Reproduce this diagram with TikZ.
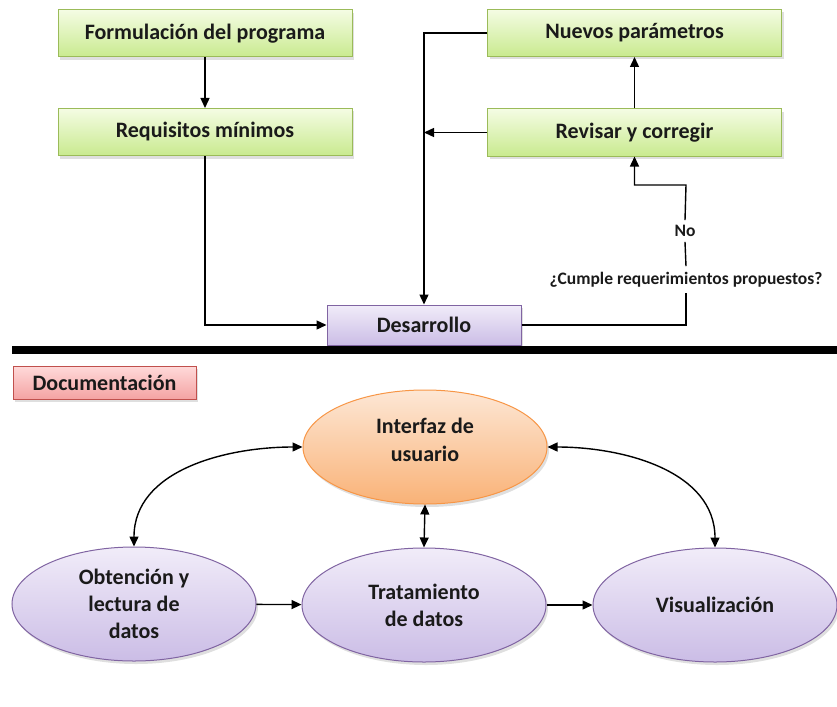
\documentclass[tikz,border=0pt]{standalone}
\usepackage{fontspec}
\setmainfont{Carlito}
\usetikzlibrary{arrows.meta,shapes.geometric,shadows}

\definecolor{grTop}{HTML}{F4FCE3}
\definecolor{grBot}{HTML}{C9EA8F}
\definecolor{grLine}{HTML}{9BBB59}
\definecolor{puTop}{HTML}{F1ECF9}
\definecolor{puBot}{HTML}{CBBDE6}
\definecolor{puLine}{HTML}{8064A2}
\definecolor{orTop}{HTML}{FDE7D5}
\definecolor{orBot}{HTML}{F9B277}
\definecolor{orLine}{HTML}{F79646}
\definecolor{rdTop}{HTML}{FFDADA}
\definecolor{rdBot}{HTML}{F4A3A3}
\definecolor{rdLine}{HTML}{C0504D}
\definecolor{ink}{HTML}{1A1A1A}

\tikzset{
  shade/.style={drop shadow={opacity=0.25,shadow xshift=2pt,shadow yshift=-3pt}},
  txt/.style={text=ink,font=\bfseries\fontsize{22}{27}\selectfont,align=center},
  greenbox/.style={txt,shade,draw=grLine,line width=1pt,top color=grTop,bottom color=grBot,
    minimum width=294pt,minimum height=47pt,inner sep=0pt},
  purplebox/.style={txt,shade,draw=puLine,line width=1pt,top color=puTop,bottom color=puBot,
    minimum width=194pt,minimum height=40pt,inner sep=0pt},
  redbox/.style={txt,shade,draw=rdLine,line width=1pt,top color=rdTop,bottom color=rdBot,
    minimum width=183pt,minimum height=33pt,inner sep=0pt},
  purpleell/.style={txt,shade,ellipse,draw=puLine,line width=1pt,top color=puTop,bottom color=puBot,
    minimum width=244pt,minimum height=114pt,inner sep=0pt},
  orangeell/.style={txt,shade,ellipse,draw=orLine,line width=1pt,top color=orTop,bottom color=orBot,
    minimum width=244pt,minimum height=114pt,inner sep=0pt},
  small/.style={text=ink,font=\bfseries\fontsize{17.5}{20}\selectfont,inner sep=0pt},
  arr/.style={line width=1.4pt,-{Triangle[length=10pt,width=9pt]}},
  biarr/.style={line width=1.4pt,{Triangle[length=10pt,width=9pt]}-{Triangle[length=10pt,width=9pt]}},
  plain/.style={line width=1.4pt},
}

\begin{document}
\begin{tikzpicture}[x=1pt,y=-1pt]
  \useasboundingbox (0,0) rectangle (837,706);

  % upper flow: programme development
  \node[greenbox] (form) at (205,33.5) {Formulación del programa};
  \node[greenbox] (req)  at (205,132)  {Requisitos mínimos};
  \node[greenbox] (nue)  at (634.5,33) {Nuevos parámetros};
  \node[greenbox] (rev)  at (634.5,132.5) {Revisar y corregir};
  \node[purplebox] (des) at (424,325) {Desarrollo};

  \node[small] (cum) at (686,280) {¿Cumple requerimientos propuestos?};
  \node[small] (no)  at (685,231) {No};
  \coordinate (turn) at (686,185);

  \draw[arr] (form) -- (req);
  \draw[arr] (req.south) |- (des.west);
  \draw[arr] (nue.west) -| (des.north);
  \draw[arr] (rev.west) -- (rev.west -| des.north);
  \draw[arr] (rev) -- (nue);
  \draw[plain] (des.east) -| ([yshift=-5pt]cum.south);
  \draw[plain] ([yshift=-5pt]no.south) -- ([yshift=6pt]cum.north);
  \draw[arr] ([yshift=5pt]no.north) -- (turn) -| (rev.south);

  % separator
  \draw[line width=8pt] (12,350) -- (837,350);

  % lower part: documentation
  \node[redbox] (doc) at (104.5,382.5) {Documentación};

  \node[orangeell,label={[txt,inner sep=0pt,yshift=7pt,font=\bfseries\fontsize{22}{28}\selectfont]center:{Interfaz de\\usuario}}] (ui) at (425,447) {};
  \node[purpleell] (obt) at (134,604) {Obtención y\\lectura de\\datos};
  \node[purpleell] (tra) at (424,605) {Tratamiento\\de datos};
  \node[purpleell] (vis) at (715,605) {Visualización};

  \draw[arr] (obt) -- (tra);
  \draw[arr] (tra) -- (vis);
  \draw[biarr] (ui.south) -- (tra.north);
  \draw[biarr] (ui.west) to[out=180,in=90] (obt.north);
  \draw[biarr] (ui.east) to[out=0,in=90] (vis.north);
\end{tikzpicture}
\end{document}
